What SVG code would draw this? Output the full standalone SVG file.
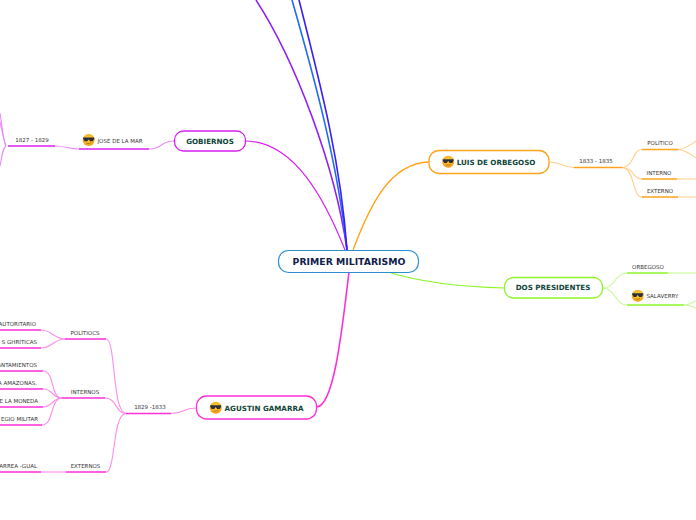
<svg xmlns="http://www.w3.org/2000/svg" width="696" height="520" viewBox="0 0 696 520">
<style>
text{font-family:"DejaVu Sans",Verdana,sans-serif}
.s{font-size:5.5px;fill:#333;text-anchor:middle}
.e{font-size:5.5px;fill:#333;text-anchor:end}
.b{font-size:7.15px;font-weight:bold;fill:#0f4539;text-anchor:middle}
.n{fill:#fff;stroke-width:1.3}
.c{fill:none;stroke-width:1.1}
.t{fill:none;stroke-width:1.5}
.m{stroke:#ff2fd8}.mc{stroke:#ff8ce9}
.v{stroke:#d81ff2}.vc{stroke:#ea8cfa}
.o{stroke:#ffa31a}.oc{stroke:#ffcf8c}
.g{stroke:#8cf52b}.gc{stroke:#c5fa95}
</style>
<defs>
<radialGradient id="fy" cx="50%" cy="40%" r="60%"><stop offset="0" stop-color="#ffd83b"/><stop offset="1" stop-color="#f59a14"/></radialGradient>
<g id="cool">
<circle r="6" fill="url(#fy)"/>
<path d="M-5.500-2.400H5.500V-1.100L4 1.300H1.500L0-.6-1.500 1.300H-4L-5.500-1.100Z" fill="#2b3138"/>
<path d="M-2 3.300Q.5 4.200 2.500 2.400" fill="none" stroke="#8a5a12" stroke-width=".6"/>
</g>
</defs>
<g id="connectors" fill="none">
<path d="M347 250C335 165 295 60 256 0" stroke="#8f1ff5" stroke-width="1.5"/>
<path d="M347 250C338 165 315 80 292 0" stroke="#1f6bf5" stroke-width="1.6"/>
<path d="M347 250C341 165 322 90 299 0" stroke="#3a1ff5" stroke-width="1.6"/>
<path d="M345 250C325 200 295 142 246 141" fill="none" stroke="#d81ff2" stroke-width="1.2"/>
<path d="M353 250C370 205 390 163 429 162" fill="none" stroke="#ffa31a" stroke-width="1.3"/>
<path d="M388 272C420 282 465 287 505 288" fill="none" stroke="#8cf52b" stroke-width="1.2"/>
<path d="M349 272C343 320 335 405 317 407" fill="none" stroke="#ff2fd8" stroke-width="1.6"/>
<path d="M174 141C160 141 163 149 149 149" class="c vc"/>
<path d="M79 149C68 149 66 146 55 146" class="c vc"/>
<path d="M6 146C3 140 2 125 0 113" class="c vc"/>
<path d="M6 146C3 138 2 130 0 122" class="c vc"/>
<path d="M6 146C3 148 2 155 0 166" class="c vc"/>
<path d="M196 408C182 408 185 413.500 171 413.500" class="c mc"/>
<path d="M126 413.500C112 413 116 339 106 339" class="c mc"/>
<path d="M126 413.500C115 413 117 398 105 398" class="c mc"/>
<path d="M126 413.500C112 414 116 472 106 472" class="c mc"/>
<path d="M65 339C54 339 52 330 41 330" class="c mc"/>
<path d="M65 339C54 339 52 348 41 348" class="c mc"/>
<path d="M62 398C50 398 55 371 43 371" class="c mc"/>
<path d="M62 398C52 398 53 389 43 389" class="c mc"/>
<path d="M62 398C52 398 53 407 43 407" class="c mc"/>
<path d="M62 398C50 398 54 425 42 425" class="c mc"/>
<path d="M66 472H41" class="c mc"/>
<path d="M549 162C562 162 562 167.500 574 167.500" class="c oc"/>
<path d="M622 167.500C635 166 632 149.500 642 149.500" class="c oc"/>
<path d="M622 167.500C635 168 632 179 642 179" class="c oc"/>
<path d="M622 167.500C635 168 632 197 642 197" class="c oc"/>
<path d="M678 149.500C686 149 690 145 696 141" class="c oc"/>
<path d="M678 149.500C686 150 690 154 696 158" class="c oc"/>
<path d="M677 179H696M678 197H696" class="c oc"/>
<path d="M603 288C615 288 615 273 627 273" class="c gc"/>
<path d="M603 288C615 288 615 305 627 305" class="c gc"/>
<path d="M668 273H696" class="c gc"/>
<path d="M684 305C688 305 692 303 696 301M684 305C688 305 692 306 696 308" class="c gc"/>
<path d="M8 146H55" class="t v"/><path d="M79 149H149" class="t v"/>
<path d="M126 413.500H171M65 339H106M62 398H105M66 472H106M0 330H41M0 348H41M0 371H43M0 389H43M0 407H43M0 425H42M0 472H41" class="t m"/>
<path d="M574 167.500H622M642 149.500H678M642 179H677M642 197H678" class="t o"/>
<path d="M627 273H668M627 305H684" class="t g"/>
</g>
<g id="root"><rect x="278.500" y="250.500" width="140" height="22" rx="10" fill="#fff" stroke="#2e8fd0" stroke-width="1.2"/><text x="349" y="265" font-size="9.300" font-weight="bold" fill="#10204a" text-anchor="middle">PRIMER MILITARISMO</text></g>
<g id="gobiernos"><rect x="174.500" y="131" width="71" height="20" rx="9" class="n v"/><text x="210" y="144" class="b">GOBIERNOS</text></g>
<g id="orbegoso"><rect x="429" y="150.500" width="120" height="23" rx="10" class="n o"/><use href="#cool" x="448.200" y="161.700"/><text x="496" y="165" class="b">LUIS DE ORBEGOSO</text></g>
<g id="dos-presidentes"><rect x="504.500" y="277.500" width="98" height="20.500" rx="9" class="n g"/><text x="553" y="290" class="b">DOS PRESIDENTES</text></g>
<g id="gamarra"><rect x="196.500" y="396" width="120" height="23" rx="10" class="n m"/><use href="#cool" x="215.700" y="407.700"/><text x="264" y="411" class="b">AGUSTIN GAMARRA</text></g>
<g id="jose-de-la-mar"><use href="#cool" x="88.700" y="140"/><text x="97.500" y="143" font-size="5.500" fill="#333">JOSÉ DE LA MAR</text></g>
<g id="t1827"><text x="32" y="142" class="s">1827 - 1829</text></g>
<g id="t1829"><text x="150" y="409" class="s">1829 -1833</text></g>
<g id="politiocs"><text x="85" y="335" class="s">POLÍTIOCS</text></g>
<g id="internos"><text x="85" y="394" class="s">INTERNOS</text></g>
<g id="externos"><text x="85.500" y="468" class="s">EXTERNOS</text></g>
<g id="l1"><text x="36" y="326" class="e">AUTORITARIO</text></g>
<g id="l2"><text x="37" y="344" class="e">S GHRÍTICAS</text></g>
<g id="l3"><text x="37" y="367" class="e">ANTAMIENTOS</text></g>
<g id="l4"><text x="37" y="385" class="e">A AMAZONAS.</text></g>
<g id="l5"><text x="38" y="403" class="e">E LA MONEDA</text></g>
<g id="l6"><text x="38" y="421" class="e">EGIO MILITAR</text></g>
<g id="l7"><text x="37" y="468" class="e">ARREA -GUAL</text></g>
<g id="t1833"><text x="596" y="163" class="s">1833 - 1835</text></g>
<g id="politico"><text x="660" y="145" class="s">POLÍTICO</text></g>
<g id="interno"><text x="659" y="175" class="s">INTERNO</text></g>
<g id="externo"><text x="660" y="193" class="s">EXTERNO</text></g>
<g id="orbegoso2"><text x="648" y="269" class="s">ORBEGOSO</text></g>
<g id="salaverry"><use href="#cool" x="637.700" y="295.700"/><text x="646.500" y="298" font-size="5.500" fill="#333">SALAVERRY</text></g>
</svg>
